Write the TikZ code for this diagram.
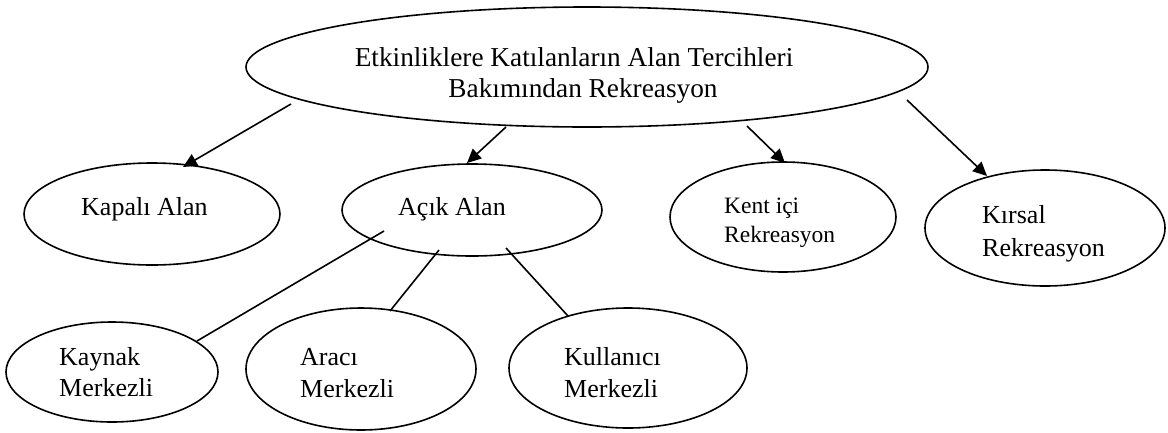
\documentclass[tikz,border=0pt]{standalone}
\usepackage{fontspec}
\setmainfont{Liberation Serif}
\usetikzlibrary{shapes.geometric,arrows.meta}
\begin{document}
\begin{tikzpicture}[x=1pt,y=-1pt,
  oval/.style={draw,ellipse,line width=1.6pt,inner sep=0pt,outer sep=0pt},
  lbl/.style={anchor=base west,inner sep=0pt,font=\fontsize{26}{30}\selectfont},
  lblsmall/.style={anchor=base west,inner sep=0pt,font=\fontsize{23.5}{28}\selectfont},
  lbltop/.style={anchor=base,inner sep=0pt,font=\fontsize{27.3}{32}\selectfont},
  arr/.style={-{Triangle[length=14pt,width=13pt]},line width=1.6pt},
  ln/.style={line width=1.6pt}]
\useasboundingbox (0,0) rectangle (1168,432);
% ellipses
\node[oval,minimum width=682pt,minimum height=120pt] (top) at (587,67) {};
\node[oval,minimum width=256pt,minimum height=102pt] (kapali) at (152,214) {};
\node[oval,minimum width=260pt,minimum height=92pt] (acik) at (472,210) {};
\node[oval,minimum width=226pt,minimum height=110pt] (kent) at (783,217) {};
\node[oval,minimum width=240pt,minimum height=116pt] (kirsal) at (1045,228) {};
\node[oval,minimum width=212pt,minimum height=100pt] (kaynak) at (112,372) {};
\node[oval,minimum width=230pt,minimum height=122pt] (araci) at (361,369) {};
\node[oval,minimum width=238pt,minimum height=120pt] (kullanici) at (628,368) {};
% texts
\node[lbltop] (toptext1) at (574,66) {Etkinliklere Katılanların Alan Tercihleri};
\node[lbltop] (toptext2) at (583,97) {Bakımından Rekreasyon};
\node[lbl] (kapalit) at (81,215) {Kapalı Alan};
\node[lbl] (acikt) at (398,215) {Açık Alan};
\node[lblsmall] (kentt1) at (724,213) {Kent içi};
\node[lblsmall] (kentt2) at (724,242) {Rekreasyon};
\node[lbl] (kirsalt1) at (982,223) {Kırsal};
\node[lbl] (kirsalt2) at (982,256) {Rekreasyon};
\node[lbl] (kaynakt1) at (59,365) {Kaynak};
\node[lbl] (kaynakt2) at (59,396) {Merkezli};
\node[lbl] (aracit1) at (300,365) {Aracı};
\node[lbl] (aracit2) at (300,397) {Merkezli};
\node[lbl] (kullanicit1) at (564,365) {Kullanıcı};
\node[lbl] (kullanicit2) at (564,397) {Merkezli};
% connector end points
\coordinate (a1s) at (291,104); \coordinate (a1e) at (183,167);
\coordinate (a2s) at (506,127); \coordinate (a2e) at (467,163);
\coordinate (a3s) at (747,126); \coordinate (a3e) at (785,163);
\coordinate (a4s) at (907,100); \coordinate (a4e) at (987,176);
\coordinate (l1s) at (384,231); \coordinate (l1e) at (197,341);
\coordinate (l2s) at (439,250); \coordinate (l2e) at (390,311);
\coordinate (l3s) at (506,248); \coordinate (l3e) at (568,316);
\draw[arr] (a1s) -- (a1e);
\draw[arr] (a2s) -- (a2e);
\draw[arr] (a3s) -- (a3e);
\draw[arr] (a4s) -- (a4e);
\draw[ln] (l1s) -- (l1e);
\draw[ln] (l2s) -- (l2e);
\draw[ln] (l3s) -- (l3e);
\end{tikzpicture}
\end{document}
